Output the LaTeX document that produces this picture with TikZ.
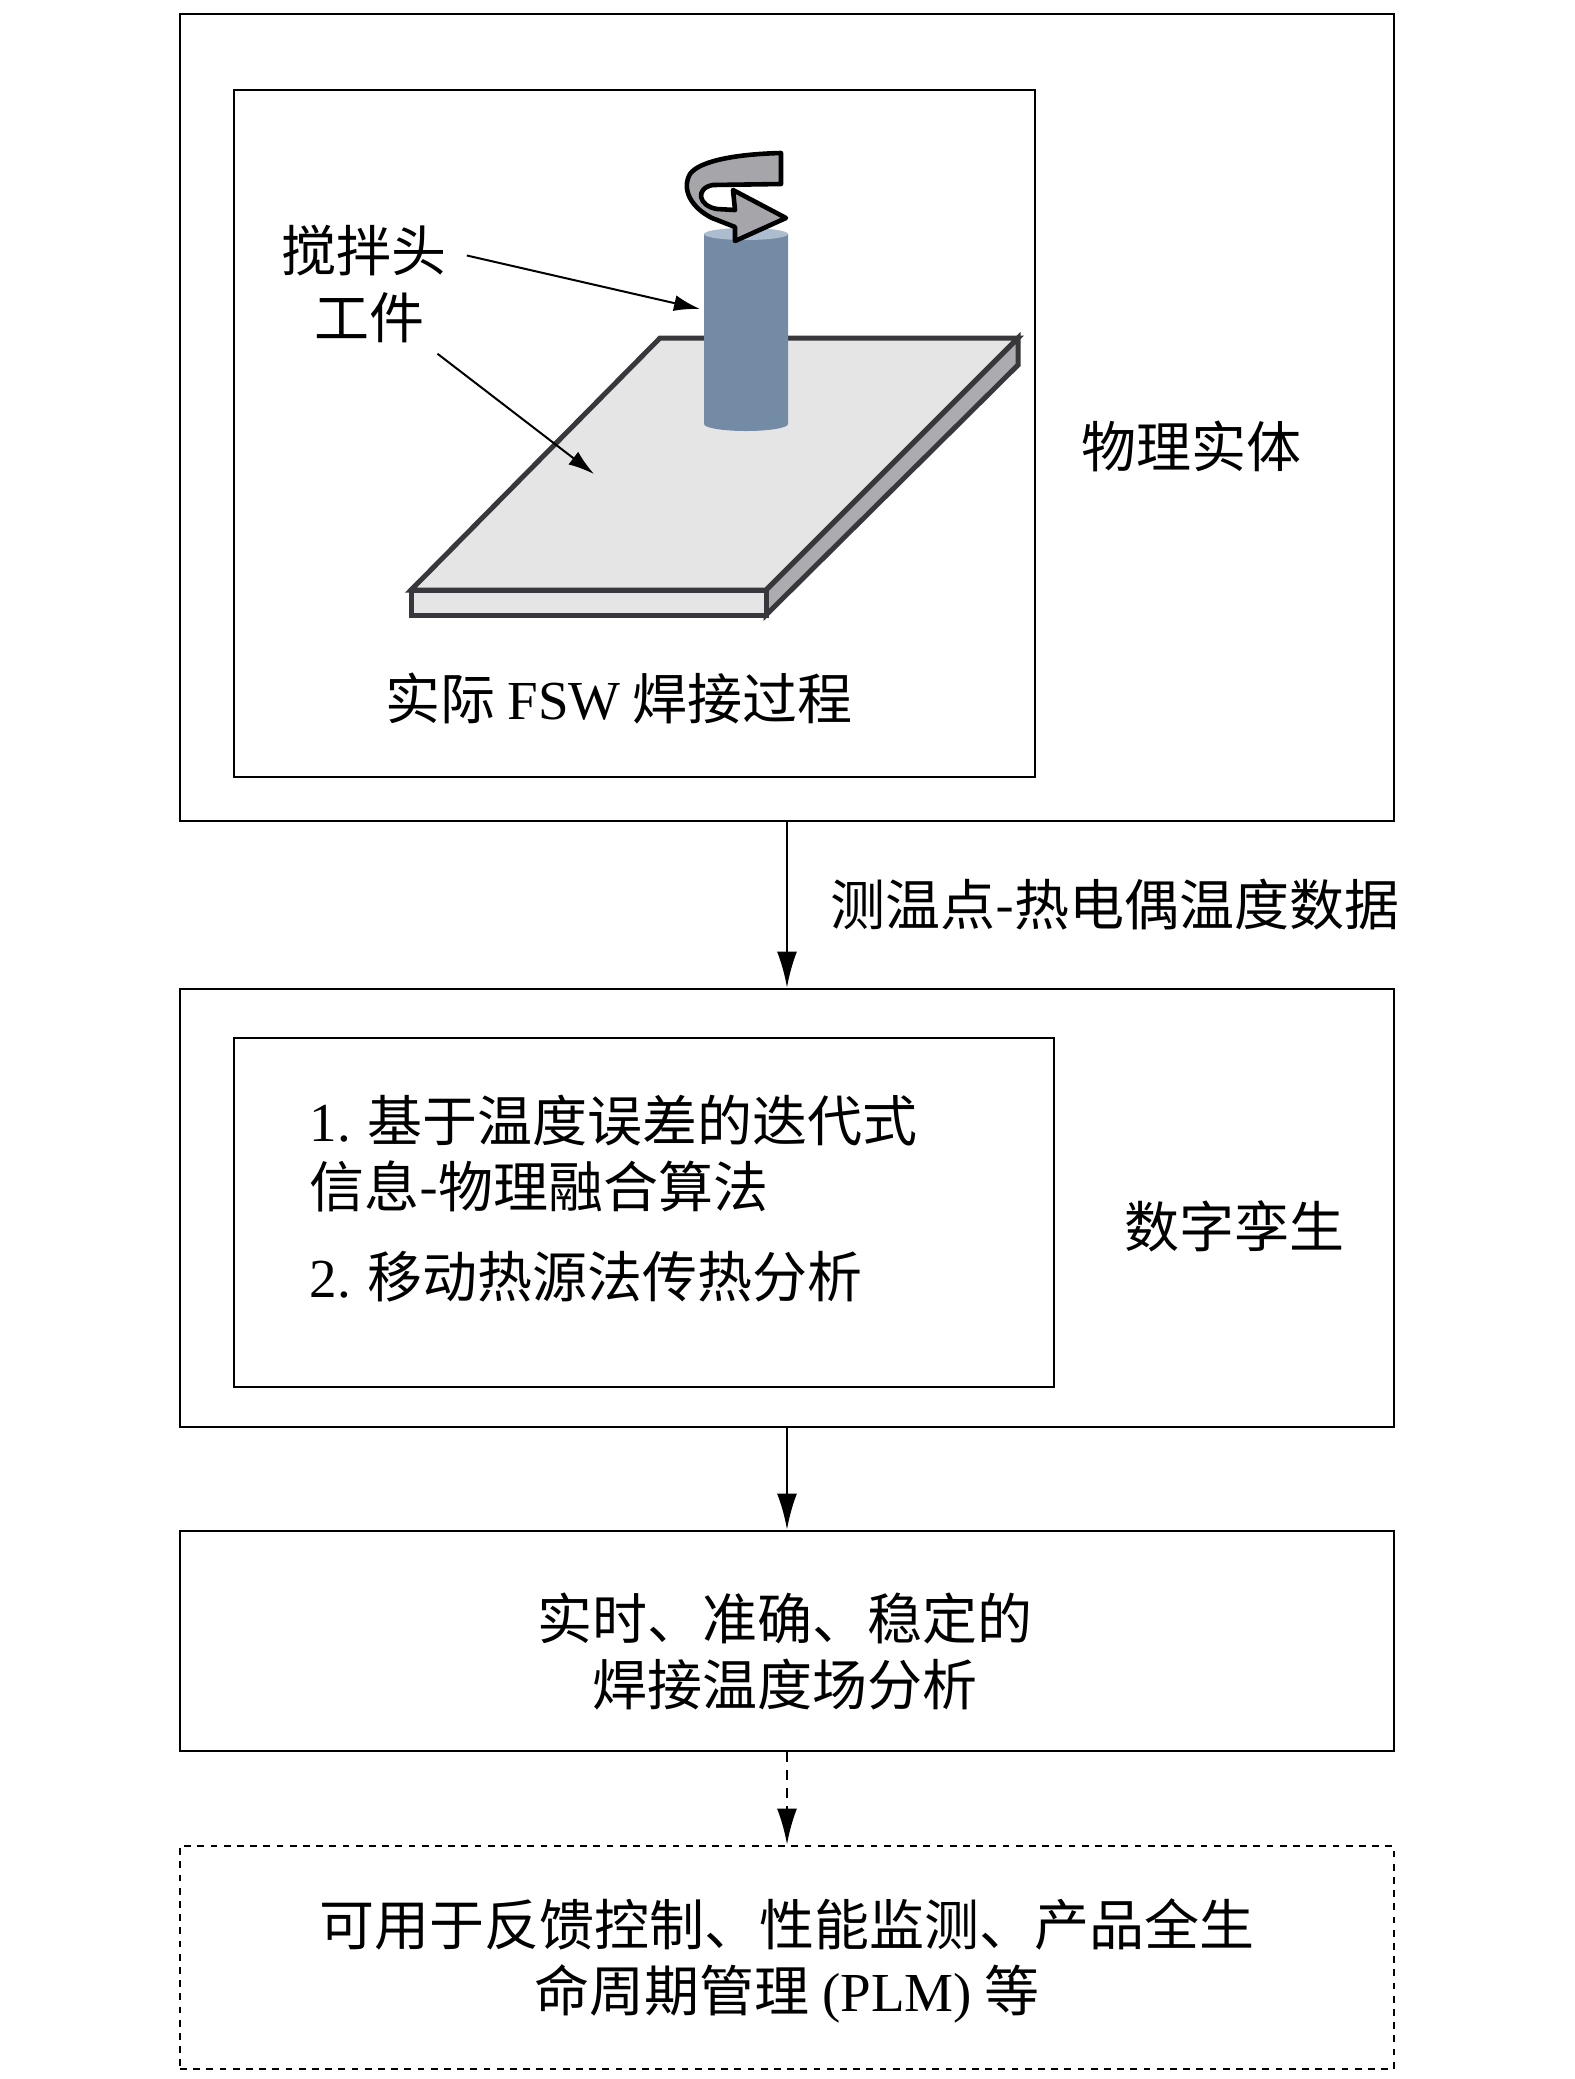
\documentclass[tikz,border=0pt]{standalone}
\usepackage{fontspec}
\setmainfont{Liberation Serif}
\newfontfamily\cjk{Noto Sans CJK SC}
\usetikzlibrary{arrows.meta,positioning}
\definecolor{platefill}{RGB}{229,229,229}
\definecolor{plateside}{RGB}{172,172,176}
\definecolor{plateedge}{RGB}{55,55,60}
\definecolor{toolbody}{RGB}{116,139,166}
\definecolor{tooltop}{RGB}{172,189,207}
\definecolor{spinfill}{RGB}{165,165,170}

\begin{document}
\begin{tikzpicture}[%
  x=0.25pt, y=-0.25pt,
  block/.style={rectangle, draw, line width=0.7pt, minimum width=303.5pt, align=center},
  inbox/.style={rectangle, draw, line width=0.7pt},
  dashblock/.style={block, dash pattern=on 1.7pt off 1.6pt},
  flow/.style={-{Latex[length=9pt, width=5pt]}, line width=0.6pt},
  pointer/.style={-{Latex[length=6.5pt, width=4pt]}, line width=0.5pt},
  txt/.style={inner sep=0pt, align=center},
  plate/.style={fill=platefill, draw=plateedge, line width=1.25pt, line join=miter},]
  \useasboundingbox (0,0) rectangle (1575,2079);
  {\cjk\fontsize{13.75pt}{16.5pt}\selectfont
    \node[block, minimum height=201.75pt] (phys) at (787,417.5) {};
    \node[inbox, minimum width=200.25pt, minimum height=171.75pt] (fsw) at (634.5,433.5) {};
    % workpiece and tool
    \filldraw[plate, fill=plateside] (1018,338) -- (1018,365) -- (766,615) -- (766,590) -- cycle;
    \filldraw[plate] (411,590) rectangle (766,615);
    \filldraw[plate] (660,338) -- (1018,338) -- (766,590) -- (411,590) -- cycle;
    \fill[toolbody] (704,234) -- (704,424) arc[start angle=180, end angle=360, x radius=10.5pt, y radius=1.75pt] -- (788,234) -- cycle;
    \fill[tooltop] (746,234) ellipse[x radius=10.5pt, y radius=1.5pt];
    \filldraw[fill=spinfill, draw=black, line width=1.15pt, line join=round]
      (781,153) .. controls (740,154) and (700,160) .. (690,174)
      .. controls (681,190) and (692,208) .. (712,218)
      -- (735,227) -- (735,241) -- (786,218) -- (733,190) -- (735,210)
      -- (717,209) .. controls (698,206) and (695,188) .. (713,185)
      -- (781,184) -- cycle;
    \node[txt] (stir) at (364,251) {搅拌头};
    \node[txt] (work) at (369,318) {工件};
    \coordinate (stirpt) at (700,309);
    \coordinate (workpt) at (594,474);
    \draw[pointer, shorten <=5pt] (stir.east) -- (stirpt);
    \draw[pointer, shorten <=4pt] (work.south east) -- (workpt);
    \node[txt] (fswlabel) at (619,699) {实际 {\rmfamily FSW} 焊接过程};
    \node[txt] (physlabel) at (1191,446) {物理实体};

    \node[block, minimum height=109.5pt] (twin) at (787,1208) {};
    \node[inbox, minimum width=205pt, minimum height=87.25pt] (algo) at (644,1212.5) {};
    \node[txt, align=left, anchor=west] (steps) at (309,1199)
      {{\rmfamily 1.} 基于温度误差的迭代式\\信息-物理融合算法\\[6pt]{\rmfamily 2.} 移动热源法传热分析};
    \node[txt] (twinlabel) at (1234,1226) {数字孪生};

    \node[block, minimum height=55pt] (field) at (787,1641) {};
    \node[txt] (fieldtxt) at (785,1651) {实时、准确、稳定的\\焊接温度场分析};
    \node[dashblock, minimum height=55.75pt] (use) at (787,1957.5) {};
    \node[txt] (usetxt) at (787,1961) {可用于反馈控制、性能监测、产品全生\\命周期管理 {\rmfamily (PLM)} 等};

    \draw[flow] (phys.south) -- node[txt, right=10.5pt] (tclabel) {测温点-热电偶温度数据} (twin.north);
    \draw[flow] (twin.south) -- (field.north);
    \draw[flow, dash pattern=on 2.5pt off 2pt] (field.south) -- (use.north);
  }
\end{tikzpicture}
\end{document}
